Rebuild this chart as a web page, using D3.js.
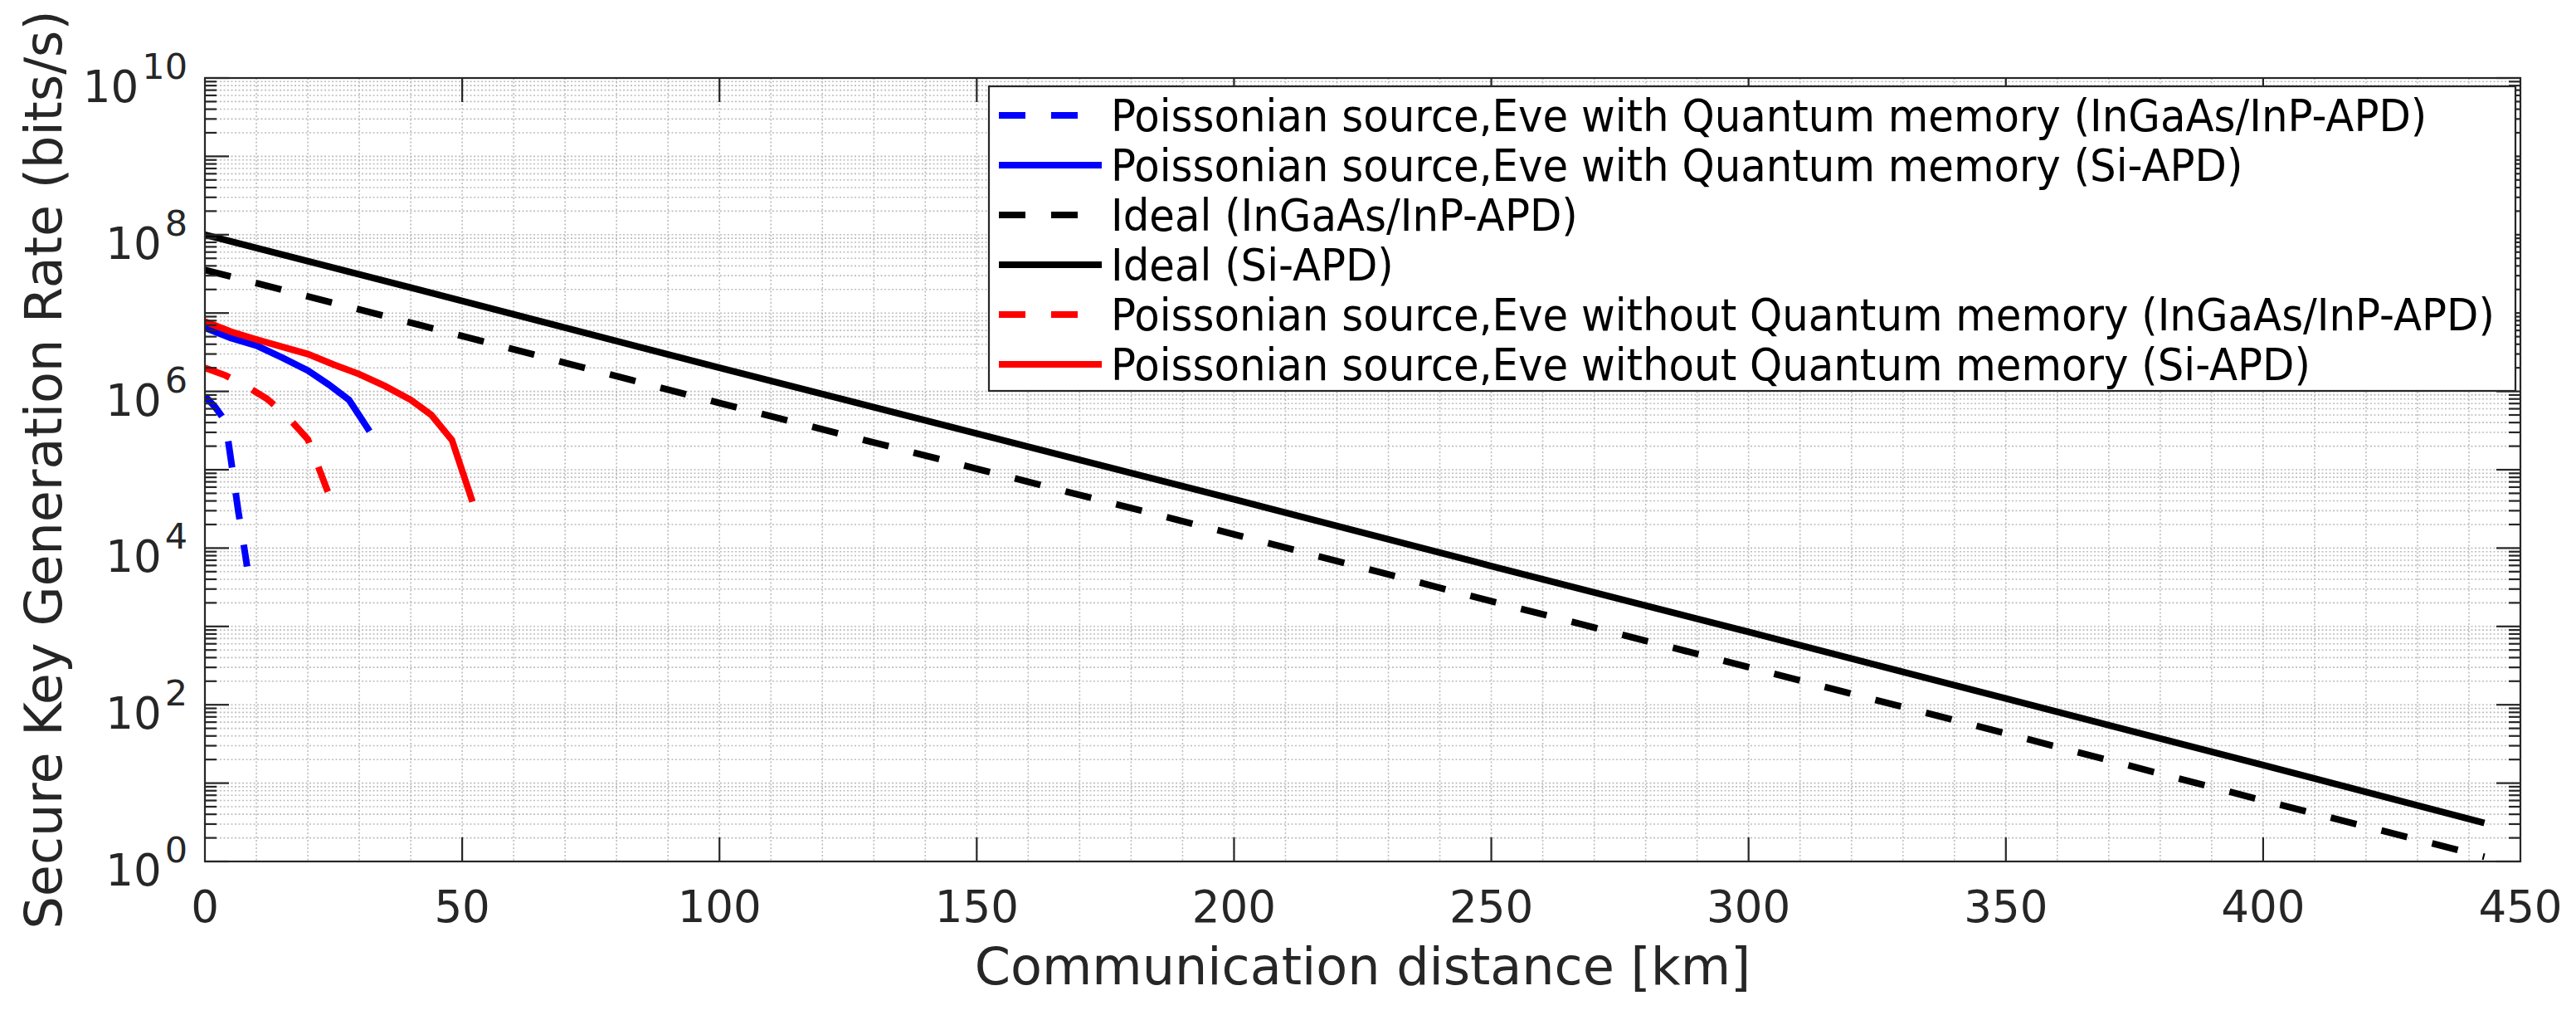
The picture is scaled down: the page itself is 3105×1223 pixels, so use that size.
<!DOCTYPE html>
<html>
<head lang="en">
    <meta charset="UTF-8">
    <title>Secure key generation rate vs distance</title>
    <script src="https://d3js.org/d3.v7.min.js"></script>
    <style>
        body { margin: 0; background: #fff; }
        text { font-family: "DejaVu Sans", sans-serif; }
    </style>
</head>
<body>
<div id="chartContainer"></div>
<script type="text/javascript">

    // values (distance in km, rate in bits/s)
    var distIdeal = [0, 50, 100, 150, 200, 250, 300, 350, 400, 443];
    var rateIdealSi = [1.0e8, 1.43e7, 2.0e6, 2.9e5, 4.2e4, 5.9e3, 850, 120, 17, 3.1];
    var rateIdealInGaAs = [3.55e7, 5.1e6, 7.1e5, 1.03e5, 1.5e4, 2.1e3, 302, 43, 6.0, 1.15];

    var distQmSi = [0, 5, 10, 15, 20, 24, 28, 32];
    var rateQmSi = [6.5e6, 4.8e6, 3.85e6, 2.7e6, 1.85e6, 1.23e6, 7.8e5, 3.1e5];

    var distQmInGaAs = [0, 2, 3.5, 4.5, 5.5, 6.5, 7.5, 8.2];
    var rateQmInGaAs = [8.7e5, 6.3e5, 4.6e5, 2.4e5, 8.5e4, 2.9e4, 1.15e4, 5.8e3];

    var distNoQmSi = [0, 5, 10, 15, 20, 25, 30, 35, 40, 44, 48, 52];
    var rateNoQmSi = [7.8e6, 5.8e6, 4.6e6, 3.7e6, 3.0e6, 2.2e6, 1.66e6, 1.17e6, 7.8e5, 5.0e5, 2.4e5, 3.9e4];

    var distNoQmInGaAs = [0, 4, 8, 12, 16, 20, 24];
    var rateNoQmInGaAs = [2.0e6, 1.6e6, 1.17e6, 8.1e5, 4.8e5, 2.45e5, 5.0e4];

    var xTicks = [0, 50, 100, 150, 200, 250, 300, 350, 400, 450];
    var yLabelExps = [0, 2, 4, 6, 8, 10];

    var xLabel = "Communication distance [km]";
    var yLabel = "Secure Key Generation Rate (bits/s)";

    var series = [
        {name: "Poissonian source,Eve with Quantum memory (InGaAs/InP-APD)", x: distQmInGaAs, y: rateQmInGaAs, color: "#0000ff", dashed: true},
        {name: "Poissonian source,Eve with Quantum memory (Si-APD)", x: distQmSi, y: rateQmSi, color: "#0000ff", dashed: false},
        {name: "Ideal (InGaAs/InP-APD)", x: distIdeal, y: rateIdealInGaAs, color: "#000000", dashed: true},
        {name: "Ideal (Si-APD)", x: distIdeal, y: rateIdealSi, color: "#000000", dashed: false},
        {name: "Poissonian source,Eve without Quantum memory (InGaAs/InP-APD)", x: distNoQmInGaAs, y: rateNoQmInGaAs, color: "#ff0000", dashed: true},
        {name: "Poissonian source,Eve without Quantum memory (Si-APD)", x: distNoQmSi, y: rateNoQmSi, color: "#ff0000", dashed: false}
    ];

    var W = 3105, H = 1223;
    // plot area edges (pixels)
    var pL = 247, pR = 3038, pT = 94, pB = 1038;
    var axisColor = "#262626";
    var lineW = 8, dash = "32,31";

    var svg = d3.select("#chartContainer").append("svg")
        .attr("width", W).attr("height", H);

    var x = d3.scaleLinear().domain([0, 450]).range([pL, pR]);
    var y = d3.scaleLog().domain([1, 1e10]).range([pB, pT]);

    svg.append("clipPath").attr("id", "plotClip")
        .append("rect").attr("x", pL).attr("y", pT)
        .attr("width", pR - pL).attr("height", pB - pT);

    // grid: every 10 km and every 1..9 x 10^k
    var gridX = d3.range(10, 450, 10);
    var gridY = [];
    for (var e = 0; e < 10; e++) {
        for (var k = 1; k < 10; k++) {
            if (e === 0 && k === 1) continue;
            gridY.push(k * Math.pow(10, e));
        }
    }
    var grid = svg.append("g")
        .attr("stroke", "#bdbdbd")
        .attr("stroke-width", 1.6)
        .attr("stroke-dasharray", "2,2.5");
    grid.selectAll("line.gx").data(gridX).enter().append("line")
        .attr("x1", function (d) { return x(d); }).attr("x2", function (d) { return x(d); })
        .attr("y1", pT).attr("y2", pB);
    grid.selectAll("line.gy").data(gridY).enter().append("line")
        .attr("x1", pL).attr("x2", pR)
        .attr("y1", function (d) { return y(d); }).attr("y2", function (d) { return y(d); });

    // curves
    var line = d3.line()
        .x(function (d) { return x(d[0]); })
        .y(function (d) { return y(d[1]); });

    svg.append("g").attr("clip-path", "url(#plotClip)")
        .selectAll("path").data(series).enter().append("path")
        .attr("d", function (s) { return line(d3.zip(s.x, s.y)); })
        .attr("fill", "none")
        .attr("stroke", function (s) { return s.color; })
        .attr("stroke-width", lineW)
        .attr("stroke-dasharray", function (s) { return s.dashed ? dash : null; });

    // axes box and ticks
    var ax = svg.append("g").attr("stroke", axisColor).attr("stroke-width", 2.2);
    ax.append("rect").attr("x", pL).attr("y", pT)
        .attr("width", pR - pL).attr("height", pB - pT).attr("fill", "none");

    var majLen = 29, minLen = 14;
    ax.selectAll("line.xt").data(xTicks.slice(1, -1)).enter().append("line")
        .attr("x1", function (d) { return x(d); }).attr("x2", function (d) { return x(d); })
        .attr("y1", pB).attr("y2", pB - majLen);
    ax.selectAll("line.xtt").data(xTicks.slice(1, -1)).enter().append("line")
        .attr("x1", function (d) { return x(d); }).attr("x2", function (d) { return x(d); })
        .attr("y1", pT).attr("y2", pT + majLen);

    var yMajor = d3.range(0, 11).map(function (e) { return Math.pow(10, e); });
    [pL, pR].forEach(function (edge) {
        var dir = edge === pL ? 1 : -1;
        ax.selectAll(null).data(yMajor).enter().append("line")
            .attr("x1", edge).attr("x2", edge + dir * majLen)
            .attr("y1", function (d) { return y(d); }).attr("y2", function (d) { return y(d); });
        ax.selectAll(null).data(gridY.filter(function (d) { return yMajor.indexOf(d) < 0; }))
            .enter().append("line")
            .attr("x1", edge).attr("x2", edge + dir * minLen)
            .attr("y1", function (d) { return y(d); }).attr("y2", function (d) { return y(d); });
    });

    // tick labels
    svg.selectAll("text.xl").data(xTicks).enter().append("text")
        .attr("x", function (d) { return x(d); })
        .attr("y", 1111)
        .attr("text-anchor", "middle")
        .attr("fill", axisColor)
        .style("font-size", "53px")
        .text(function (d) { return d; });

    var yl = svg.selectAll("text.yl").data(yLabelExps).enter().append("text")
        .attr("x", 226)
        .attr("y", function (d) { return y(Math.pow(10, d)) + 29; })
        .attr("text-anchor", "end")
        .attr("fill", axisColor);
    yl.append("tspan").style("font-size", "53px").text("10");
    yl.append("tspan").attr("dy", -28).attr("dx", 4).style("font-size", "43px")
        .text(function (d) { return d; });

    // axis titles
    svg.append("text")
        .attr("x", (pL + pR) / 2).attr("y", 1186)
        .attr("text-anchor", "middle")
        .attr("fill", axisColor)
        .style("font-size", "62px")
        .text(xLabel);
    svg.append("text")
        .attr("transform", "translate(74," + ((pT + pB) / 2) + ") rotate(-90)")
        .attr("text-anchor", "middle")
        .attr("fill", axisColor)
        .style("font-size", "62px")
        .text(yLabel);

    // legend
    var lgX = 1192, lgY = 104, lgW = 3032 - 1192, lgH = 471 - 104;
    var lg = svg.append("g");
    lg.append("rect").attr("x", lgX).attr("y", lgY).attr("width", lgW).attr("height", lgH)
        .attr("fill", "#fff").attr("stroke", axisColor).attr("stroke-width", 2.2);
    var row = lg.selectAll("g.row").data(series).enter().append("g")
        .attr("transform", function (d, i) { return "translate(0," + (139 + i * 60) + ")"; });
    row.append("line")
        .attr("x1", 1204).attr("x2", 1328).attr("y1", 0).attr("y2", 0)
        .attr("stroke", function (s) { return s.color; })
        .attr("stroke-width", lineW)
        .attr("stroke-dasharray", function (s) { return s.dashed ? dash : null; });
    // legend text in the figure is slightly narrower than the tick font
    row.append("text")
        .attr("transform", "translate(1339,19) scale(0.94,1)")
        .attr("fill", "#000")
        .style("font-size", "53px")
        .text(function (s) { return s.name; });

</script>
</body>
</html>
